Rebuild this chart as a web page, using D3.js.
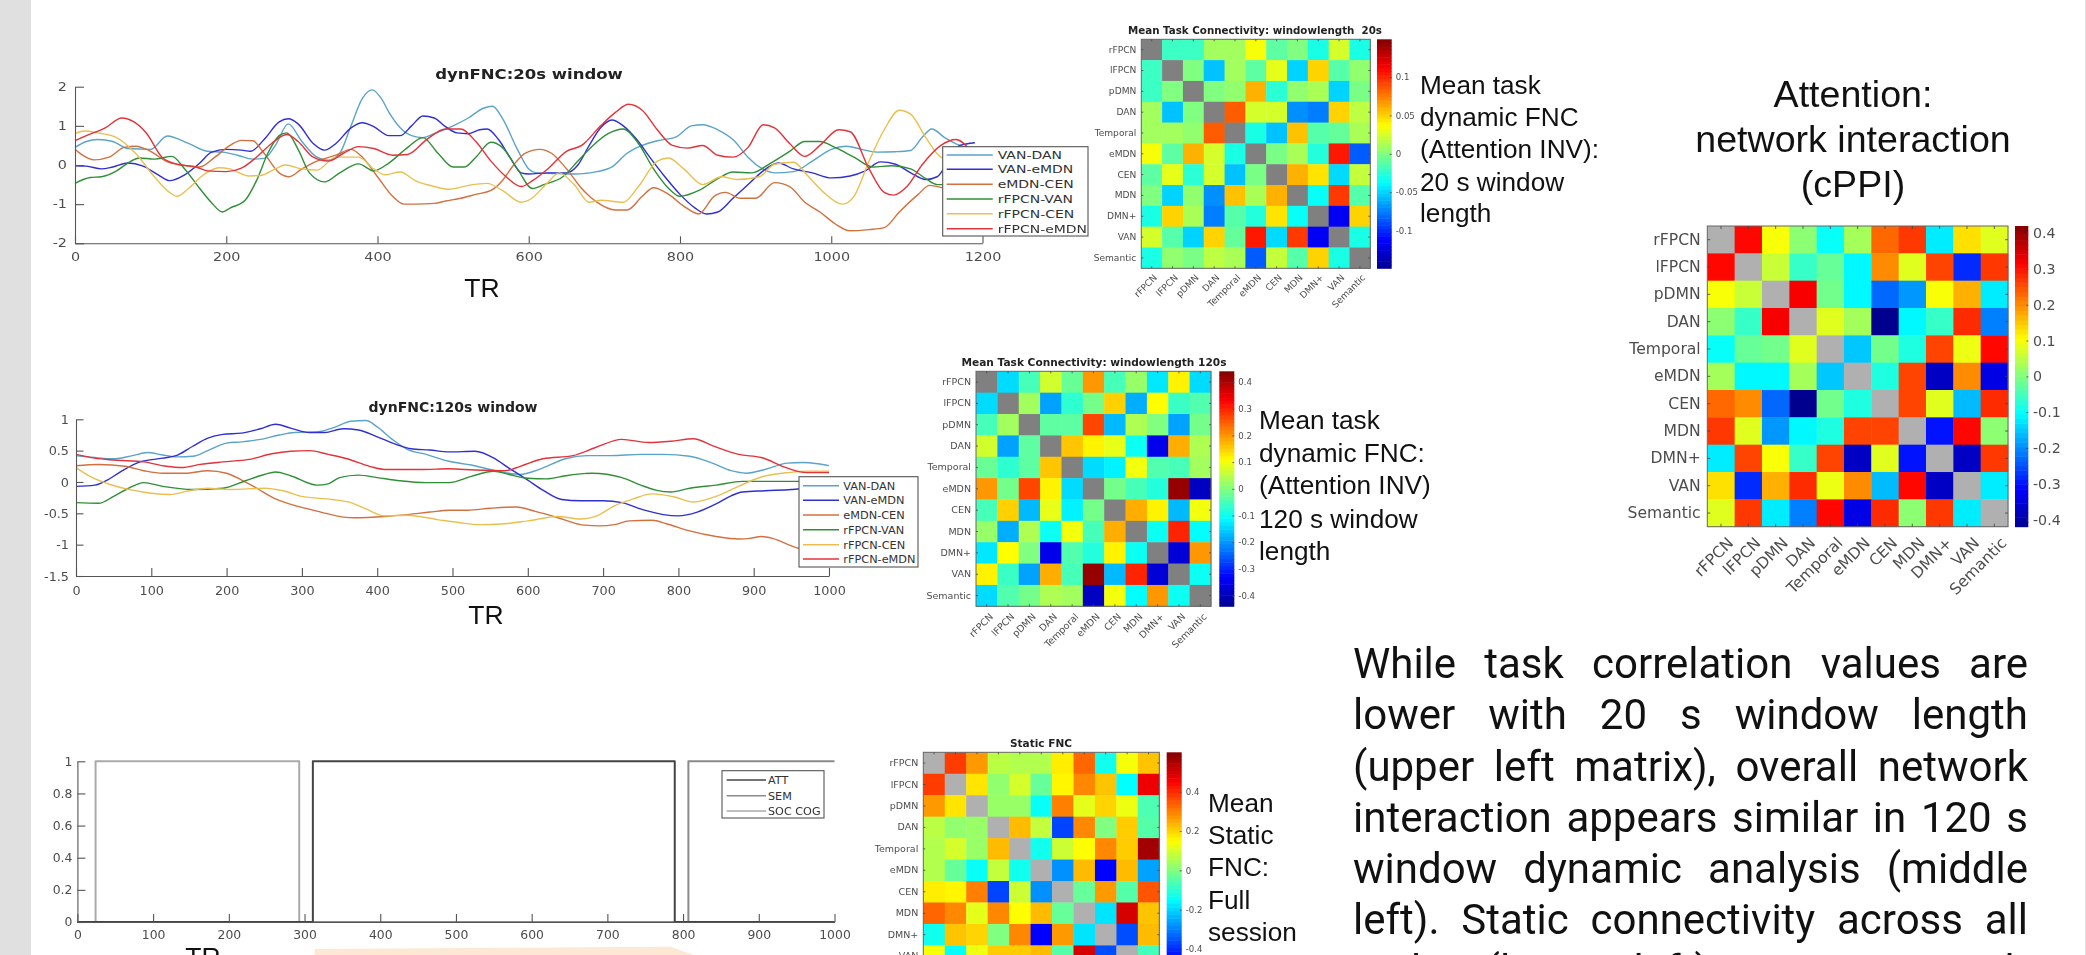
<!DOCTYPE html>
<html><head><meta charset="utf-8">
<script src="https://cdn.jsdelivr.net/npm/d3@7/dist/d3.min.js"></script>
<style>
html,body{margin:0;padding:0;background:#fff;overflow:hidden}
svg{display:block}
.soft{filter:blur(.55px)}
</style></head><body>
<svg id="c" width="2086" height="955"></svg>
<script>
// ---------- labels ----------
const networks = ["rFPCN","lFPCN","pDMN","DAN","Temporal","eMDN","CEN","MDN","DMN+","VAN","Semantic"];
const pairNames = ["VAN-DAN","VAN-eMDN","eMDN-CEN","rFPCN-VAN","rFPCN-CEN","rFPCN-eMDN"];
const pairColors = ["#5aa3c9","#2f2fd2","#d2703f","#2f8f35","#e9c050","#e2333a"];
const taskNames = ["ATT","SEM","SOC COG"];
const taskColors = ["#444444","#8a8a8a","#aaaaaa"];

// ---------- dynFNC 20 s window: [TR, value] ----------
const vanDan20 = [[0,.45],[15,.6],[30,.65],[50,.6],[70,.42],[100,.4],[122,.74],[150,.55],[175,.35],[195,.33],[215,.25],[235,.15],[250,.17],[265,.5],[282,1.05],[300,.6],[320,.2],[335,.12],[350,.3],[365,1.0],[380,1.7],[393,1.92],[405,1.7],[415,1.35],[430,.95],[445,.75],[460,.7],[475,.8],[500,1.0],[520,1.2],[540,1.45],[552,1.5],[565,1.2],[585,.4],[600,-.1],[610,-.2],[640,-.22],[660,-.23],[690,-.17],[710,-.05],[730,.3],[750,.5],[770,.62],[795,.72],[815,1.0],[830,1.03],[850,.9],[870,.65],[890,.2],[905,-.05],[925,-.2],[950,-.17],[975,.1],[1000,.4],[1020,.48],[1040,.4],[1060,.33],[1085,.34],[1105,.37],[1120,.7],[1133,.92],[1150,.7],[1170,.5],[1190,.4]];
const vanEmdn20 = [[0,-.02],[15,-.03],[35,-.1],[50,-.05],[70,.05],[90,-.03],[110,-.25],[125,-.4],[145,-.25],[165,.05],[180,.32],[200,.4],[220,.38],[232,.35],[250,.65],[270,1.1],[282,1.18],[295,1.05],[315,.55],[330,.38],[345,.55],[365,.95],[380,1.08],[395,.98],[415,.75],[430,.75],[445,1.0],[460,1.25],[475,1.2],[490,.98],[505,.82],[520,.8],[535,.9],[545,.92],[560,.65],[575,.2],[590,-.2],[600,-.23],[625,-.2],[650,-.2],[665,0],[680,.5],[695,.95],[710,1.15],[725,1.0],[745,.6],[760,.2],[780,-.3],[800,-.75],[820,-1.1],[835,-1.25],[850,-1.2],[870,-.85],[890,-.5],[910,-.15],[930,.05],[950,-.1],[975,-.2],[1000,-.33],[1025,-.28],[1045,-.15],[1065,.08],[1085,.02],[1105,-.2],[1125,-.37],[1140,-.3],[1155,.1],[1170,.5],[1190,.57]];
const emdnCen20 = [[0,.4],[10,.25],[25,.13],[45,.2],[65,.45],[80,.48],[100,.35],[120,.1],[140,0],[165,-.05],[185,.2],[205,.5],[220,.63],[235,.62],[250,.3],[270,-.2],[283,-.3],[300,-.1],[320,.1],[345,.25],[365,.4],[380,.2],[400,-.3],[420,-.8],[435,-1.0],[450,-1.0],[475,-.98],[490,-.92],[510,-.85],[530,-.75],[550,-.65],[565,-.4],[580,0],[595,.3],[615,.4],[630,.3],[650,-.1],[670,-.6],[690,-.95],[715,-1.15],[730,-1.15],[750,-.8],[765,-.58],[785,-.75],[805,-1.05],[825,-1.25],[845,-.8],[860,-.7],[880,-.85],[900,-.85],[925,-.45],[945,-.55],[965,-.95],[985,-1.2],[1005,-1.5],[1025,-1.68],[1050,-1.65],[1070,-1.6],[1090,-1.2],[1115,-.75],[1130,-.52],[1150,-.6],[1165,-.7]];
const rfpcnVan20 = [[0,-.47],[20,-.32],[35,-.3],[55,-.15],[70,.05],[85,.18],[105,.15],[128,.22],[145,-.1],[165,-.6],[180,-.95],[195,-1.2],[205,-1.1],[225,-.9],[240,-.4],[255,.3],[270,.75],[280,.82],[295,.4],[310,-.2],[330,-.43],[350,-.2],[375,.03],[395,-.15],[415,.05],[440,.45],[460,.7],[480,.3],[500,-.05],[515,-.05],[530,.2],[550,.58],[565,.45],[585,-.1],[605,-.6],[620,-.5],[645,-.3],[665,.1],[685,.5],[705,.8],[725,.92],[745,.55],[765,-.1],[785,-.6],[800,-.8],[825,-.65],[850,-.35],[870,-.18],[895,-.2],[920,.05],[945,.35],[965,.6],[985,.6],[1005,.45],[1030,.2],[1055,-.05],[1080,-.02],[1105,-.1],[1125,-.35],[1140,-.5],[1165,-.5]];
const rfpcnCen20 = [[0,.8],[12,.87],[30,.82],[55,.7],[80,.3],[105,-.3],[125,-.7],[135,-.8],[150,-.6],[170,-.25],[190,-.07],[205,-.1],[230,-.28],[245,-.27],[265,-.1],[278,0],[300,-.1],[320,-.13],[345,.2],[375,.2],[395,-.1],[410,-.25],[430,-.18],[450,-.4],[475,-.55],[495,-.62],[520,-.52],[545,-.47],[565,-.65],[590,-.95],[600,-.9],[625,-.45],[640,-.2],[660,-.5],[680,-.95],[695,-.9],[725,-.95],[745,-.55],[770,.1],[785,.18],[805,-.1],[830,-.5],[855,-.3],[875,-.37],[905,-.3],[925,.02],[950,.07],[970,-.3],[990,-.7],[1015,-1.0],[1030,-.8],[1050,.1],[1070,.9],[1090,1.4],[1105,1.3],[1125,.7],[1145,.2],[1165,.1]];
const rfpcnEmdn20 = [[0,.62],[15,.75],[40,.95],[62,1.2],[78,1.1],[95,.8],[115,.2],[135,.02],[160,-.05],[175,-.15],[200,-.17],[220,-.08],[240,.2],[260,.55],[280,.78],[295,.6],[315,.2],[335,.1],[355,.3],[375,.47],[395,.42],[420,.25],[440,.27],[465,.65],[490,.92],[510,.92],[530,.6],[550,.1],[570,-.3],[590,-.55],[605,-.4],[625,-.1],[650,.35],[670,.5],[695,1.0],[715,1.35],[732,1.55],[750,1.4],[770,.9],[790,.5],[810,.43],[830,.5],[850,.25],[870,.2],[890,.45],[910,1.03],[925,.95],[945,.55],[965,.22],[985,.5],[1010,.9],[1025,.85],[1050,-.1],[1070,-.7],[1082,-.77],[1100,-.55],[1120,0],[1145,.5],[1165,.65],[1185,.35]];

// ---------- dynFNC 120 s window: [TR, value] ----------
const vanDan120 = [[0,.42],[25,.39],[50,.37],[75,.42],[95,.47],[115,.43],[135,.4],[155,.41],[175,.5],[200,.62],[220,.64],[245,.68],[270,.75],[290,.79],[320,.8],[345,.88],[365,.97],[385,.98],[400,.88],[420,.68],[440,.52],[465,.44],[495,.33],[525,.27],[550,.2],[570,.15],[590,.12],[615,.2],[650,.37],[680,.42],[710,.42],[750,.44],[780,.44],[815,.41],[845,.3],[870,.18],[890,.14],[915,.2],[945,.3],[965,.31],[985,.29],[1000,.26]];
const vanEmdn120 = [[0,-.07],[25,-.05],[40,.02],[60,.17],[85,.32],[115,.38],[135,.43],[155,.57],[175,.7],[195,.76],[220,.78],[245,.85],[265,.92],[285,.86],[310,.79],[330,.79],[355,.85],[375,.83],[400,.72],[425,.6],[445,.53],[470,.51],[495,.48],[530,.49],[555,.38],[575,.22],[600,.03],[620,-.13],[645,-.28],[670,-.3],[700,-.3],[725,-.33],[755,-.45],[780,-.52],[800,-.54],[825,-.48],[850,-.35],[870,-.22],[885,-.16],[915,-.14],[950,-.12],[970,-.1],[1000,-.02]];
const emdnCen120 = [[0,.26],[30,.28],[65,.25],[90,.18],[115,.14],[145,.14],[175,.18],[200,.14],[220,.03],[240,-.1],[265,-.27],[295,-.39],[325,-.48],[355,-.56],[370,-.57],[410,-.55],[440,-.52],[470,-.48],[495,-.45],[520,-.45],[550,-.42],[585,-.4],[610,-.47],[640,-.57],[670,-.68],[695,-.7],[715,-.68],[735,-.62],[765,-.61],[785,-.67],[815,-.78],[850,-.87],[880,-.91],[895,-.9],[910,-.87],[925,-.9],[950,-1.02],[965,-1.08],[1000,-1.2]];
const rfpcnVan120 = [[0,-.33],[30,-.34],[50,-.23],[70,-.1],[90,-.01],[115,-.07],[155,-.12],[195,-.1],[225,.02],[250,.12],[265,.16],[285,.1],[320,-.05],[335,-.03],[350,.07],[375,.11],[400,.07],[430,.02],[465,-.01],[495,-.01],[525,.09],[555,.17],[575,.12],[600,.06],[625,.05],[650,.1],[685,.14],[725,.07],[750,-.05],[770,-.13],[790,-.16],[815,-.1],[850,-.05],[885,.01],[930,.01],[960,.01],[1000,.01]];
const rfpcnCen120 = [[0,.23],[20,.08],[45,-.04],[75,-.13],[100,-.18],[125,-.2],[150,-.14],[175,-.1],[205,-.12],[250,-.1],[275,-.14],[300,-.23],[340,-.28],[365,-.33],[385,-.43],[410,-.54],[440,-.53],[480,-.6],[510,-.65],[535,-.68],[565,-.67],[600,-.62],[640,-.55],[670,-.59],[690,-.55],[715,-.38],[740,-.27],[765,-.19],[795,-.24],[820,-.32],[845,-.25],[880,-.07],[910,.08],[945,.15],[975,.17],[1000,.17]];
const rfpcnEmdn120 = [[0,.44],[25,.38],[50,.35],[90,.32],[120,.25],[140,.23],[165,.28],[195,.32],[230,.36],[260,.45],[285,.49],[310,.5],[335,.44],[360,.37],[390,.25],[410,.2],[460,.2],[495,.21],[530,.19],[570,.18],[590,.25],[620,.37],[660,.42],[690,.55],[725,.68],[760,.63],[790,.65],[820,.69],[845,.58],[880,.44],[910,.39],[945,.22],[970,.15],[1000,.15]];

// ---------- task blocks: [TR, on/off] ----------
const attBlocks = [[0,0],[311,0],[311,1],[789,1],[789,0],[1000,0]];
const semBlocks = [[0,0],[807,0],[807,1],[1000,1]];
const socBlocks = [[0,0],[24,0],[24,1],[293,1],[293,0],[1000,0]];

// ---------- matrices: upper triangle by row ----------
const meanTask20 = [
 [-.02,-.02,.01,.01,.035,-.01,0,-.03,.025,-.03],
 [0,-.055,.01,-.01,.03,-.05,.05,-.012,.005],
 [0,.005,.06,-.025,.005,.012,-.05,-.002],
 [.085,.025,.025,-.07,-.075,.05,.018],
 [-.03,-.055,.055,-.012,-.008,.012],
 [-.002,.012,-.027,.105,-.085],
 [.06,.045,-.048,.02],
 [-.035,.095,-.012],
 [-.115,.05],
 [-.03]];
const meanTask120 = [
 [-.14,-.05,.07,-.02,.2,-.05,.02,-.13,.12,-.14],
 [.03,-.19,-.07,-.01,.15,-.18,.11,-.06,-.04],
 [-.03,-.03,.27,-.17,.04,0,-.19,-.01],
 [.16,.12,.09,-.1,-.35,.18,.04],
 [-.14,-.12,.1,-.04,-.05,.03],
 [-.01,-.05,-.08,.42,-.39],
 [.18,.12,-.17,.1],
 [-.1,.3,-.11],
 [-.37,.2],
 [-.1]];
const staticFnc = [
 [.38,.27,.07,.06,.06,.17,.33,-.13,.14,.22],
 [.18,.02,.1,-.03,.16,.29,.22,-.15,.47],
 [.03,.03,-.14,.3,.12,.2,.13,-.06],
 [.23,.08,-.37,.29,0,.21,-.05],
 [-.13,.09,.15,.29,.21,.56],
 [-.28,.23,-.45,.23,-.26],
 [-.03,.27,-.05,.35],
 [-.18,.5,.22],
 [-.36,.23],
 [-.07]];
const cppi = [
 [.31,.1,.01,-.1,.03,.23,.27,-.12,.13,.08],
 [.06,-.06,-.02,-.11,.2,.08,.26,-.28,.27],
 [.32,-.01,-.11,-.23,-.19,.1,.17,-.12],
 [.08,.03,-.42,-.11,-.06,.28,-.21],
 [-.15,-.01,-.08,.26,.09,.31],
 [-.08,.26,-.37,.2,-.34],
 [.26,.08,-.16,.28],
 [-.3,.31,.01],
 [-.37,.27],
 [-.12]];

// ---------- text ----------
const paragraphLines = [
 "While task correlation values are",
 "lower with 20 s window length",
 "(upper left matrix), overall network",
 "interaction appears similar in 120 s",
 "window dynamic analysis (middle",
 "left). Static connectivity across all",
 "tasks (lower left) appears much"];
const caption20 = ["Mean task","dynamic FNC","(Attention INV):","20 s window","length"];
const caption120 = ["Mean task","dynamic FNC:","(Attention INV)","120 s window","length"];
const captionStatic = ["Mean","Static","FNC:","Full","session"];
const captionCppi = ["Attention:","network interaction","(cPPI)"];

// ---------- helpers ----------
const svg = d3.select("#c");
const TICK = "#4d4d4d";
const SANS = "'DejaVu Sans',sans-serif", ARIAL = "'Liberation Sans',Arial,sans-serif";
const jet = d3.scaleLinear().domain([0,.125,.375,.625,.875,1])
  .range(["#00008f","#0000ff","#00ffff","#ffff00","#ff0000","#800000"]).clamp(true);

// page furniture
svg.append("rect").attr("x",0).attr("y",0).attr("width",31).attr("height",955).attr("fill","#e0e0e0");
svg.append("rect").attr("x",2085).attr("y",0).attr("width",1).attr("height",955).attr("fill","#e0e0e0");
svg.append("path").attr("d","M314.6 949L670.5 946.7L693.4 955L314.6 955Z").attr("fill","#fde8d3");

function lineChart(o){
  const g = svg.append("g").attr("class","soft");
  const x = d3.scaleLinear().domain(o.xDomain).range([o.left,o.right]);
  const y = d3.scaleLinear().domain(o.yDomain).range([o.bottom,o.top]);
  const line = d3.line().x(d=>x(d[0])).y(d=>y(d[1])).curve(o.curve);
  const order = o.drawOrder || o.series.map((_,i)=>i);
  order.forEach(i=>g.append("path").datum(o.series[i]).attr("d",line).attr("fill","none")
     .attr("stroke",o.colors[i]).attr("stroke-width",o.lw).attr("stroke-linejoin","round"));
  const ax = g.append("g").attr("transform",`translate(0,${o.bottom})`)
     .call(d3.axisBottom(x).tickValues(o.xTicks).tickSizeInner(-o.xTick).tickSizeOuter(0).tickPadding(o.xPad).tickFormat(String));
  const ay = g.append("g").attr("transform",`translate(${o.left},0)`)
     .call(d3.axisLeft(y).tickValues(o.yTicks).tickSizeInner(-o.yTick).tickSizeOuter(0).tickFormat(String));
  [ax,ay].forEach(a=>{a.selectAll("path,line").attr("stroke","#555").attr("stroke-width",1.1);
    a.selectAll("text").attr("fill",TICK).attr("font-family",SANS).attr("font-size",o.tickFont)
      .attr("transform",`scale(${o.sx},1)`);});
  ay.selectAll("text").attr("x",-o.yPad/o.sx);
  if(o.title){
    g.append("text").attr("transform",`translate(${o.titleX},${o.titleY}) scale(${o.sx},1)`)
     .attr("text-anchor","middle").attr("font-family",SANS).attr("font-weight","bold")
     .attr("font-size",o.titleFont).attr("fill","#222").text(o.title);
  }
  // legend
  const L=o.legend, lg=g.append("g");
  lg.append("rect").attr("x",L.x0).attr("y",L.y0).attr("width",L.x1-L.x0).attr("height",L.y1-L.y0)
    .attr("fill","#fff").attr("stroke","#555").attr("stroke-width",1.1);
  o.names.forEach((n,i)=>{
    lg.append("line").attr("x1",L.s0).attr("x2",L.s1).attr("y1",L.rows[i]).attr("y2",L.rows[i])
      .attr("stroke",o.colors[i]).attr("stroke-width",1.4);
    lg.append("text").attr("transform",`translate(${L.tx},${L.rows[i]}) scale(${o.sx},1)`)
      .attr("dy",".36em").attr("font-family",SANS).attr("font-size",L.font).attr("fill","#333").text(n);
  });
}

function matrix(o){
  const g = svg.append("g").attr("class","soft");
  const n = networks.length;
  const cells = [];
  for(let i=0;i<n;i++)for(let j=0;j<n;j++){
    const v = i===j?null:(i<j?o.upper[i][j-i-1]:o.upper[j][i-j-1]);
    cells.push({r:networks[i],c:networks[j],v});
  }
  const x = d3.scaleBand().domain(networks).range([o.x0,o.x0+o.cell*n]);
  const y = d3.scaleBand().domain(networks).range([o.y0,o.y0+o.cell*n]);
  const t = d3.scaleLinear().domain([-o.range,o.range]).range([0,1]);
  g.selectAll("rect.cell").data(cells).join("rect").attr("class","cell")
    .attr("x",d=>x(d.c)).attr("y",d=>y(d.r)).attr("width",x.bandwidth()+.4).attr("height",y.bandwidth()+.4)
    .attr("fill",d=>d.v===null?o.diag:jet(t(d.v)));
  g.append("rect").attr("x",o.x0).attr("y",o.y0).attr("width",o.cell*n).attr("height",o.cell*n)
    .attr("fill","none").attr("stroke","#666").attr("stroke-width",1);
  const style=a=>{a.selectAll("path").remove();a.selectAll("line").attr("stroke","#444").attr("stroke-width",.8);};
  const ly=g.append("g").attr("transform",`translate(${o.x0},0)`)
    .call(d3.axisLeft(y).tickSizeInner(-o.tk).tickSizeOuter(0)).call(style);
  ly.selectAll("text").attr("x",-o.labelGap).attr("fill",TICK).attr("font-family",SANS).attr("font-size",o.font);
  g.append("g").attr("transform",`translate(${o.x0+o.cell*n},0)`)
    .call(d3.axisRight(y).tickSizeInner(-o.tk).tickSizeOuter(0).tickFormat("")).call(style);
  g.append("g").attr("transform",`translate(0,${o.y0})`)
    .call(d3.axisTop(x).tickSizeInner(-o.tk).tickSizeOuter(0).tickFormat("")).call(style);
  const lx=g.append("g").attr("transform",`translate(0,${o.y0+o.cell*n})`)
    .call(d3.axisBottom(x).tickSizeInner(-o.tk).tickSizeOuter(0)).call(style);
  lx.selectAll("text").attr("fill",TICK).attr("font-family",SANS).attr("font-size",o.font)
    .attr("text-anchor","end").attr("x",0).attr("y",0).attr("dy",".3em")
    .attr("transform",`translate(${o.rotDx},${o.rotDy}) rotate(-45)`);
  // colour bar
  const by=d3.scaleLinear().domain([-o.range,o.range]).range([o.y0+o.cell*n,o.y0]);
  const steps=d3.range(64).map(i=>i/64);
  g.selectAll("rect.cb").data(steps).join("rect").attr("class","cb")
    .attr("x",o.barX).attr("width",o.barW)
    .attr("y",d=>by(-o.range+(d+1/64)*2*o.range)).attr("height",(o.cell*n)/64+.5)
    .attr("fill",d=>jet(d+1/128));
  const ca=g.append("g").attr("transform",`translate(${o.barX+o.barW},0)`)
    .call(d3.axisRight(by).tickValues(o.barTicks).tickSizeInner(-2).tickSizeOuter(0).tickFormat(String)).call(style);
  ca.selectAll("text").attr("x",o.barGap).attr("fill",TICK).attr("font-family",SANS).attr("font-size",o.barFont);
  if(o.title){
    g.append("text").attr("x",o.titleX).attr("y",o.titleY).attr("dy",".36em").attr("text-anchor","middle")
     .attr("font-family",SANS).attr("font-weight","bold").attr("font-size",o.titleFont)
     .attr("fill","#222").style("white-space","pre")
     .attr("textLength",o.titleLen).attr("lengthAdjust","spacingAndGlyphs").text(o.title);
  }
}

function caption(lines,x,ys,size,anchor){
  const t=svg.append("g").attr("font-family",ARIAL).attr("font-size",size).attr("fill","#111").attr("text-anchor",anchor||"start");
  lines.forEach((s,i)=>t.append("text").attr("x",x).attr("y",ys[i]).text(s));
}

// ---------- line charts ----------
lineChart({left:75,right:982.5,top:86.7,bottom:243.3,xDomain:[0,1200],yDomain:[-2,2],
  xTicks:[0,200,400,600,800,1000,1200],yTicks:[-2,-1,0,1,2],xTick:7,yTick:9,xPad:9.5,yPad:8,tickFont:11.5,sx:1.25,
  series:[vanDan20,vanEmdn20,emdnCen20,rfpcnVan20,rfpcnCen20,rfpcnEmdn20],names:pairNames,colors:pairColors,lw:1.4,
  curve:d3.curveMonotoneX,title:"dynFNC:20s window",titleX:529,titleY:79,titleFont:13.2,
  legend:{x0:942.7,x1:1088,y0:146.7,y1:236,s0:946.7,s1:992.7,tx:997.7,font:11.2,rows:[155,169.3,184.3,199,213.7,228.7]}});
lineChart({left:76,right:829,top:419.3,bottom:576,xDomain:[0,1000],yDomain:[-1.5,1],
  xTicks:d3.range(0,1001,100),yTicks:[-1.5,-1,-.5,0,.5,1],xTick:8,yTick:7.5,xPad:9.5,yPad:7,tickFont:12.8,sx:1,
  series:[vanDan120,vanEmdn120,emdnCen120,rfpcnVan120,rfpcnCen120,rfpcnEmdn120],names:pairNames,colors:pairColors,lw:1.4,
  curve:d3.curveMonotoneX,title:"dynFNC:120s window",titleX:453,titleY:412,titleFont:14,
  legend:{x0:799,x1:918,y0:476.7,y1:567,s0:803,s1:839,tx:843.3,font:11.3,rows:[485.7,500.3,515,529.7,544.7,559]}});
lineChart({left:77.4,right:834.5,top:761.3,bottom:922,xDomain:[0,1000],yDomain:[0,1],
  xTicks:d3.range(0,1001,100),yTicks:[0,.2,.4,.6,.8,1],xTick:8,yTick:8,xPad:8.5,yPad:5,tickFont:12.4,sx:1,
  series:[attBlocks,semBlocks,socBlocks],drawOrder:[2,1,0],names:taskNames,colors:taskColors,lw:2,
  curve:d3.curveLinear,
  legend:{x0:722,x1:824,y0:770.7,y1:818,s0:726.7,s1:766,tx:768,font:11.2,rows:[780,795.7,811]}});

// ---------- matrices ----------
matrix({upper:meanTask20,x0:1141.3,y0:39.3,cell:229/11,range:.149,diag:"#808080",font:9.1,labelGap:5,tk:2,rotDx:4,rotDy:8,
  barX:1377,barW:14.7,barTicks:[-.1,-.05,0,.05,.1],barGap:4,barFont:8.6,
  title:"Mean Task Connectivity: windowlength  20s",titleX:1255,titleY:30.7,titleFont:9.6,titleLen:254});
matrix({upper:meanTask120,x0:976,y0:371.3,cell:235/11,range:.44,diag:"#808080",font:9.5,labelGap:5,tk:2,rotDx:5,rotDy:9,
  barX:1219.3,barW:15,barTicks:[-.4,-.3,-.2,-.1,0,.1,.2,.3,.4],barGap:4,barFont:8.6,
  title:"Mean Task Connectivity: windowlength 120s",titleX:1094,titleY:362,titleFont:9.8,titleLen:265});
matrix({upper:staticFnc,x0:923.3,y0:752.3,cell:236/11,range:.6,diag:"#b0b0b0",font:9.5,labelGap:5,tk:2,rotDx:5,rotDy:9,
  barX:1166.7,barW:15,barTicks:[-.4,-.2,0,.2,.4],barGap:4,barFont:8.6,
  title:"Static FNC",titleX:1041,titleY:743,titleFont:10,titleLen:62});
matrix({upper:cppi,x0:1707.3,y0:226,cell:300.7/11,range:.42,diag:"#b0b0b0",font:15.6,labelGap:6.6,tk:3,rotDx:10,rotDy:14,
  barX:2015,barW:13.3,barTicks:[-.4,-.3,-.2,-.1,0,.1,.2,.3,.4],barGap:4.7,barFont:14.2});

// ---------- captions ----------
caption(["TR"],482,[297],26.5,"middle");
caption(["TR"],486,[624],26.5,"middle");
caption(["TR"],203,[966],26.5,"middle");
caption(caption20,1420,[94,126,158,191,222],26.2);
caption(caption120,1259,[429,462,494,528,560],26.2);
caption(captionStatic,1208,[812,844,876,909,941],26.2);
caption(captionCppi,1853,[106.7,151.7,196.7],37.6,"middle");

// ---------- justified paragraph ----------
const para=svg.append("g").attr("font-family","Roboto,sans-serif").attr("font-size",42).attr("fill","#111");
paragraphLines.forEach((s,i)=>{
  const t=para.append("text").attr("x",1353).attr("y",678.3+i*51.1).text(s);
  const gaps=s.split(" ").length-1, extra=(675-t.node().getComputedTextLength())/gaps;
  t.style("word-spacing",extra+"px");
});
</script></body></html>
